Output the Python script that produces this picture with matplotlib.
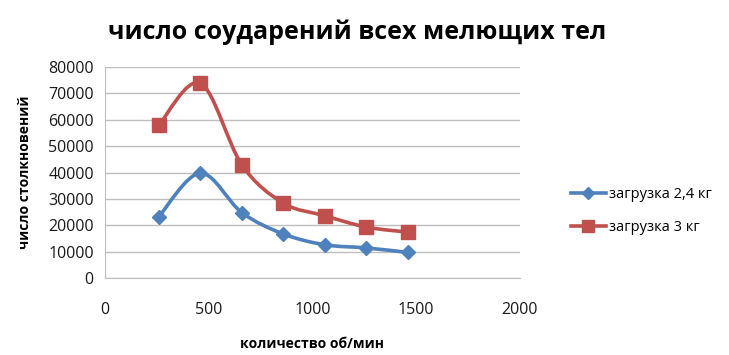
import numpy as np
import matplotlib.pyplot as plt
from matplotlib.path import Path
from matplotlib.patches import PathPatch
from matplotlib.lines import Line2D

plt.rcParams['font.family'] = ['Open Sans', 'DejaVu Sans']

rpm = [260, 460, 660, 860, 1060, 1260, 1460]
load_24 = [23300, 39800, 24800, 16700, 12600, 11400, 9700]
load_3 = [58000, 73900, 42900, 28400, 23600, 19300, 17400]

blue = '#4F81BD'
red = '#C0504D'


def smooth_path(x, y, t=1/6.):
    # bezier path through points, excel-like smoothing
    x = np.asarray(x, float)
    y = np.asarray(y, float)
    n = len(x)
    verts = [(x[0], y[0])]
    codes = [Path.MOVETO]
    for i in range(n - 1):
        i0 = max(i - 1, 0)
        i3 = min(i + 2, n - 1)
        c1 = (x[i] + (x[i + 1] - x[i0]) * t, y[i] + (y[i + 1] - y[i0]) * t)
        c2 = (x[i + 1] - (x[i3] - x[i]) * t, y[i + 1] - (y[i3] - y[i]) * t)
        verts += [c1, c2, (x[i + 1], y[i + 1])]
        codes += [Path.CURVE4] * 3
    return Path(verts, codes)


fig = plt.figure(figsize=(7.29, 3.55), dpi=100)
ax = fig.add_axes([0.144, 0.217, 0.569, 0.594])

for xs, ys, c, m, ms, lab in [(rpm, load_24, blue, 'D', 7, 'загрузка 2,4 кг'),
                              (rpm, load_3, red, 's', 10, 'загрузка 3 кг')]:
    ax.add_patch(PathPatch(smooth_path(xs, ys), facecolor='none', edgecolor=c,
                           lw=2.6, capstyle='round', joinstyle='round', zorder=3))
    ax.plot(xs, ys, ls='none', marker=m, ms=ms, color=c, zorder=4, label=lab)

ax.set_xlim(0, 2000)
ax.set_ylim(0, 80000)
ax.set_xticks([0, 500, 1000, 1500, 2000])
ax.set_yticks(range(0, 80001, 10000))
ax.yaxis.grid(True, color='#BEBEBE', lw=1)
ax.set_axisbelow(True)
for s in ['top', 'right']:
    ax.spines[s].set_visible(False)
ax.spines['left'].set_color('#BEBEBE')
ax.spines['bottom'].set_color('#BEBEBE')
ax.tick_params(length=0, labelsize=11.5, colors='#1a1a1a', pad=8)
ax.tick_params(axis='x', pad=17)

ax.set_xlabel('количество об/мин', fontsize=10, fontweight='bold', labelpad=14)
ax.set_ylabel('число столкновений', fontsize=10, fontweight='bold', labelpad=12)

fig.text(0.49, 0.91, 'число соударений всех мелющих тел', ha='center', va='center',
         fontsize=18, fontweight='bold')

handles = [Line2D([], [], color=blue, lw=2.6, marker='D', ms=6),
           Line2D([], [], color=red, lw=2.6, marker='s', ms=8)]
fig.legend(handles, ['загрузка 2,4 кг', 'загрузка 3 кг'], loc='center left',
           bbox_to_anchor=(0.765, 0.405), frameon=False, fontsize=10.5,
           handlelength=2.4, handletextpad=0.2, labelspacing=1.25)

fig.savefig('out.png', dpi=100)
